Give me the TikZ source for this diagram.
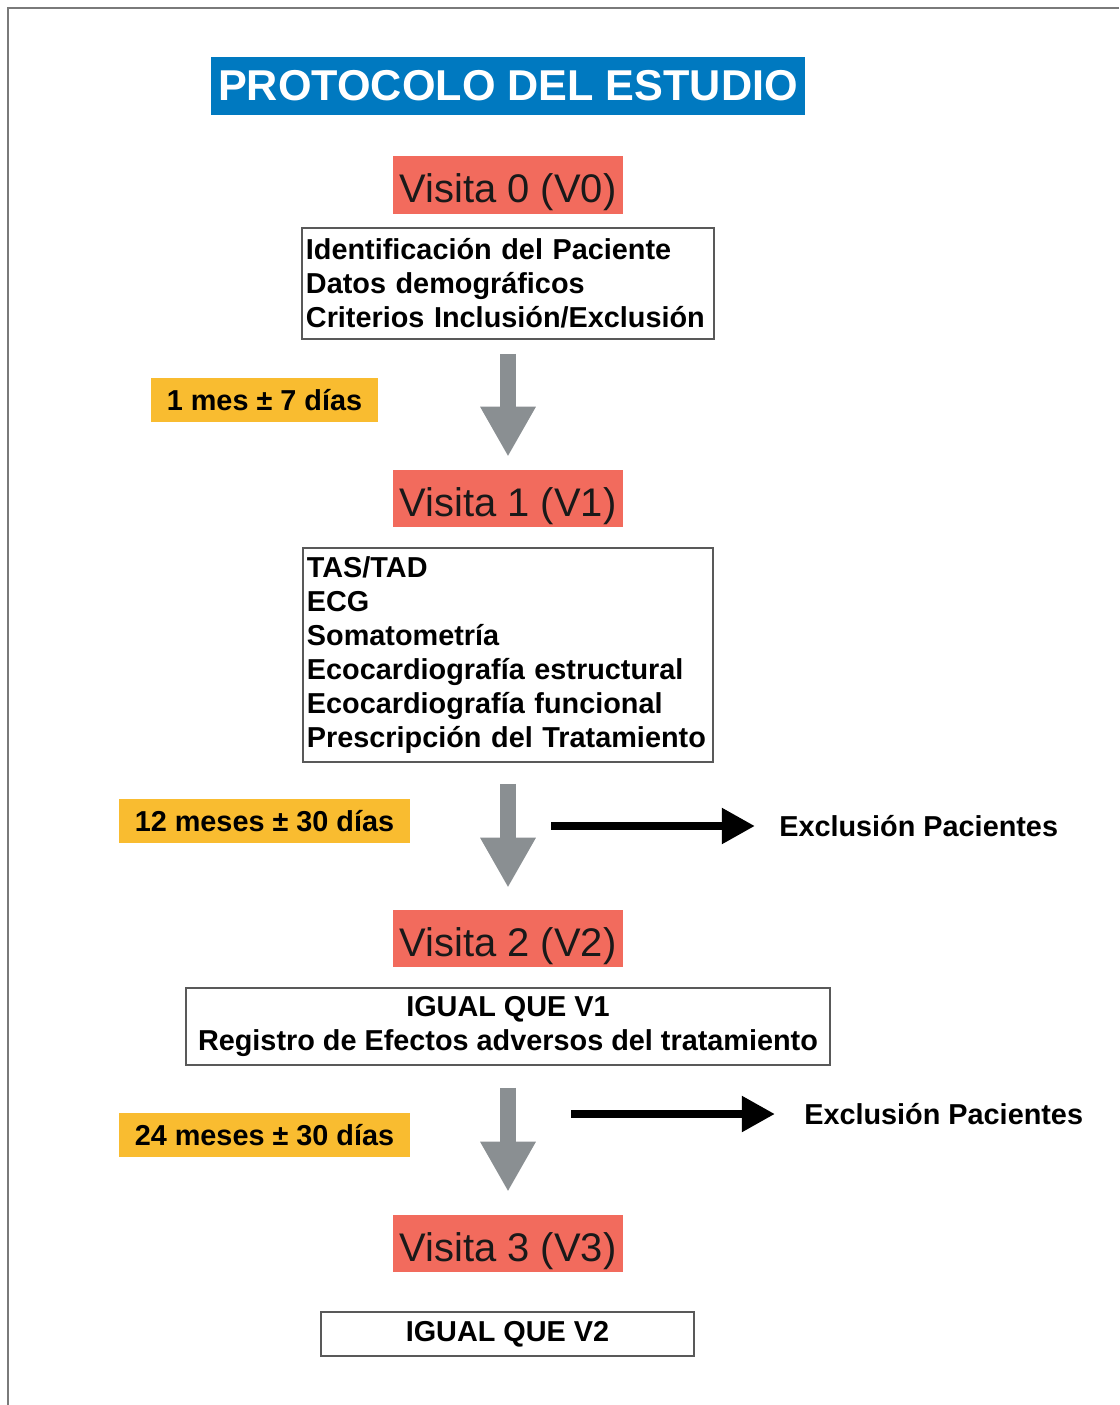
\documentclass[tikz,border=0pt]{standalone}
\usepackage{fontspec}
\setmainfont{Liberation Sans}
\usetikzlibrary{arrows.meta,positioning}

\definecolor{protblue}{HTML}{0079C0}
\definecolor{visitred}{HTML}{F26B5D}
\definecolor{timeyellow}{HTML}{F9BC30}
\definecolor{arrowgray}{HTML}{8A8F92}
\definecolor{framegray}{HTML}{7A7A7A}

\newcommand{\boxfont}{\fontsize{20.5}{24.1}\selectfont\bfseries}

\begin{document}
\begin{tikzpicture}[x=0.025cm,y=-0.025cm,
  title node/.style={fill=protblue,text=white,inner sep=0pt,minimum width=14.85cm,
    minimum height=1.45cm,font=\fontsize{30.7}{36}\selectfont\bfseries},
  visit node/.style={fill=visitred,text=black!90,inner sep=0pt,minimum width=5.75cm,
    minimum height=1.425cm,text height=25.6pt,text depth=0pt,font=\fontsize{28.4}{34}\selectfont},
  info node/.style={draw=black!65,line width=1.1pt,inner xsep=0.1cm,inner ysep=0pt,font=\boxfont},
  time node/.style={fill=timeyellow,inner sep=0pt,minimum height=1.1cm,font=\boxfont},
  excl node/.style={inner sep=0pt,anchor=west,font=\boxfont},
  flow arrow/.style={draw=arrowgray,line width=0.4cm,-{Triangle[width=1.3cm,length=1.25cm]}},
  out arrow/.style={draw=black,line width=0.22cm,-{Triangle[width=0.85cm,length=0.83cm]}}]

  \useasboundingbox (0,0) rectangle (1119,1405);
  \draw[framegray,line width=1pt] (8,1405) -- (8,8) -- (1119,8);

  \node[title node] (title) at (508,86) {PROTOCOLO DEL ESTUDIO};

  \node[visit node] (v0) at (508,185) {Visita 0 (V0)};
  \node[info node,text width=10.1cm,minimum height=2.775cm,align=left] (datos0) at (508,283.5)
    {Identificación del Paciente\\Datos demográficos\\Criterios Inclusión/Exclusión};

  \node[visit node] (v1) at (508,498.5) {Visita 1 (V1)};
  \node[info node,text width=10.05cm,minimum height=5.35cm,align=left] (datos1) at (508,655)
    {TAS/TAD\\ECG\\Somatometría\\Ecocardiografía estructural\\Ecocardiografía funcional\\Prescripción del Tratamiento};

  \node[visit node] (v2) at (508,938.5) {Visita 2 (V2)};
  \node[info node,minimum width=16.1cm,minimum height=1.925cm,align=center] (datos2) at (508,1026.5)
    {IGUAL QUE V1\\Registro de Efectos adversos del tratamiento};

  \node[visit node] (v3) at (508,1243.5) {Visita 3 (V3)};
  \node[info node,minimum width=9.325cm,minimum height=1.1cm] (datos3) at (507.5,1334) {IGUAL QUE V2};

  % tiempos entre visitas
  \node[time node,minimum width=5.675cm] (t1) at (264.5,400) {1 mes ± 7 días};
  \node[time node,minimum width=7.275cm] (t2) at (264.5,821) {12 meses ± 30 días};
  \node[time node,minimum width=7.275cm] (t3) at (264.5,1135) {24 meses ± 30 días};

  % exclusiones
  \node[excl node] (excl1) at (779,826) {Exclusión Pacientes};
  \node[excl node] (excl2) at (804,1114) {Exclusión Pacientes};
  \coordinate (ex1) at (551,826);
  \coordinate (ex2) at (571,1114);

  \draw[flow arrow,shorten <=0.35cm,shorten >=0.325cm] (datos0) -- (v1);
  \draw[flow arrow,shorten <=0.525cm,shorten >=0.55cm] (datos1) -- (v2);
  \draw[flow arrow,shorten <=0.55cm,shorten >=0.575cm] (datos2) -- (v3);

  \draw[out arrow,shorten >=0.6cm] (ex1) -- (excl1.west);
  \draw[out arrow,shorten >=0.725cm] (ex2) -- (excl2.west);
\end{tikzpicture}
\end{document}
